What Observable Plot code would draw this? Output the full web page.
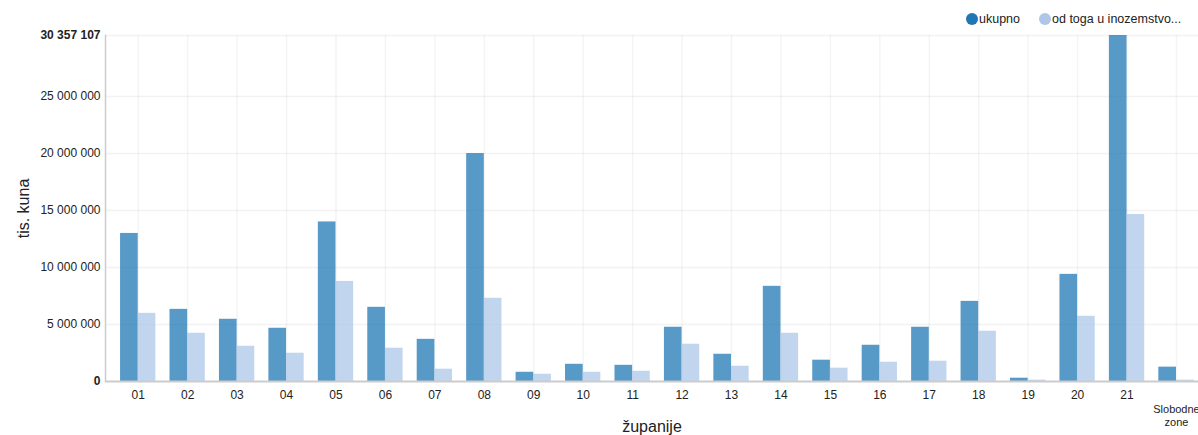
<!DOCTYPE html>
<html>
<head>
<meta charset="utf-8">
<script src="https://cdn.jsdelivr.net/npm/d3@7"></script>
<script src="https://cdn.jsdelivr.net/npm/@observablehq/plot@0.6"></script>
<style>
  html, body { margin: 0; padding: 0; background: #fff; }
  #wrap { position: relative; width: 1198px; height: 435px; overflow: hidden; font-family: "Liberation Sans", Arial, sans-serif; }
  #legend { position: absolute; top: 12px; left: 966px; display: flex; gap: 19px; font-size: 12.5px; color: #222; white-space: nowrap; }
  .item { display: flex; align-items: center; gap: 1px; }
  .dot { width: 12px; height: 12px; border-radius: 50%; display: inline-block; }
</style>
</head>
<body>
<div id="wrap"><div id="legend"></div></div>
<script>
const categories = ["01","02","03","04","05","06","07","08","09","10","11","12","13","14","15","16","17","18","19","20","21","Slobodne zone"];
const ukupno = [12990000, 6330000, 5460000, 4670000, 14000000, 6510000, 3700000, 20000000, 810000, 1510000, 1420000, 4760000, 2390000, 8350000, 1870000, 3180000, 4760000, 7030000, 290000, 9400000, 30357107, 1260000];
const inozemstvo = [5980000, 4230000, 3090000, 2480000, 8780000, 2920000, 1080000, 7300000, 640000, 810000, 900000, 3270000, 1340000, 4230000, 1170000, 1690000, 1780000, 4410000, 120000, 5720000, 14650000, 120000];
const seriesNames = ["ukupno", "od toga u inozemstvo..."];
const seriesColors = ["#1f77b4", "#aec7e8"];
const yTicks = [5000000, 10000000, 15000000, 20000000, 25000000];
const yMax = 30357107;

const data = categories.map((c, i) => ({cat: c, ukupno: ukupno[i], inoz: inozemstvo[i]}));
const fmt = d => d3.format(",")(d).replace(/,/g, " ");

const W = 1198, H = 435;
const xRange = [113, 1200.7];
const padInner = 0.286;
const step = (xRange[1] - xRange[0]) / categories.length;
const half = step * (1 - padInner) / 2;

const chart = Plot.plot({
  width: W,
  height: H,
  marginLeft: 105,
  marginRight: 0,
  marginTop: 35,
  marginBottom: 54,
  style: {fontFamily: "Liberation Sans, Arial, sans-serif", fontSize: "12px", color: "#222", background: "#fff"},
  x: {type: "band", domain: categories, range: xRange, paddingInner: padInner, paddingOuter: padInner / 2, round: false},
  y: {domain: [0, yMax]},
  marks: [
    Plot.gridY([...yTicks, yMax], {stroke: "#000", strokeOpacity: 0.05, strokeWidth: 1.5}),
    Plot.gridX(categories, {stroke: "#000", strokeOpacity: 0.045, strokeWidth: 1.5}),
    Plot.barY(data, {x: "cat", y: "ukupno", fill: seriesColors[0], fillOpacity: 0.75, insetRight: half}),
    Plot.barY(data, {x: "cat", y: "inoz", fill: seriesColors[1], fillOpacity: 0.75, insetLeft: half}),
    Plot.frame({anchor: "left", stroke: "#ccc", strokeWidth: 1.5}),
    Plot.ruleY([0], {stroke: "#ccc", strokeWidth: 2}),
    Plot.axisY(yTicks, {tickSize: 0, tickPadding: 5, tickFormat: fmt, fontSize: 12, label: null}),
    Plot.axisY([0, yMax], {tickSize: 0, tickPadding: 5, tickFormat: fmt, fontSize: 12, fontWeight: "bold", label: null}),
    Plot.axisY([], {label: "tis. kuna", labelAnchor: "center", labelOffset: 88, fontSize: 16, labelArrow: "none"}),
    Plot.axisX(categories.slice(0, 21), {tickSize: 0, tickPadding: 9, fontSize: 12, label: null}),
    Plot.axisX(categories.slice(21), {tickSize: 0, tickPadding: 23, fontSize: 11, tickFormat: () => "Slobodne\nzone", label: null, lineHeight: 1.15}),
    Plot.axisX([], {label: "županije", labelAnchor: "center", labelOffset: 50, fontSize: 16, labelArrow: "none"})
  ]
});

const wrap = document.getElementById("wrap");
wrap.appendChild(chart);
const legend = document.getElementById("legend");
seriesNames.forEach((n, i) => {
  const it = document.createElement("span");
  it.className = "item";
  const dot = document.createElement("span");
  dot.className = "dot";
  dot.style.background = seriesColors[i];
  it.appendChild(dot);
  const t = document.createElement("span");
  t.textContent = n;
  it.appendChild(t);
  legend.appendChild(it);
});
</script>
</body>
</html>
